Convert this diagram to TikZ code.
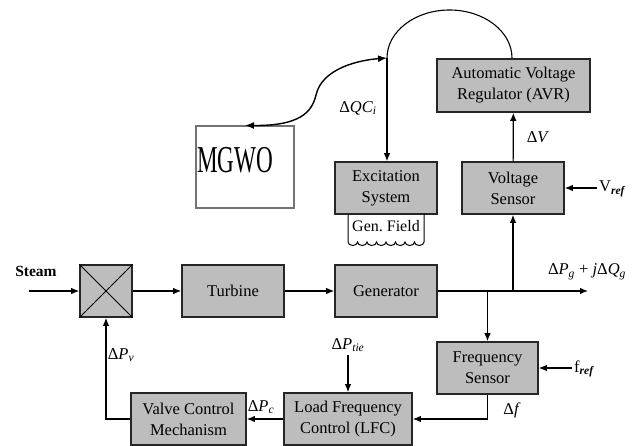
\documentclass[tikz,border=0pt]{standalone}
\usepackage{fontspec}
\setmainfont{Liberation Serif}
\usetikzlibrary{arrows.meta}
\frenchspacing
\begin{document}
\begin{tikzpicture}[x=1pt,y=-1pt,
  blk/.style={draw=black!85, line width=1.6pt, fill=gray!52, minimum width=102pt,
    minimum height=52pt, align=center, inner sep=0pt,
    font=\fontsize{16.5}{21}\selectfont},
  conn/.style={line width=1.2pt, -{Latex[length=8pt,width=6.5pt]}},
  lbl/.style={font=\fontsize{16.5}{20}\selectfont, inner sep=0pt},
  wire/.style={line width=1.2pt}]
\useasboundingbox (0,0) rectangle (637,445);
% blocks
\node[blk, minimum width=52pt] (sum) at (106,291) {};
\draw[line width=1pt] (sum.north west) -- (sum.south east) (sum.north east) -- (sum.south west);
\node[blk] (turb) at (233,291) {Turbine};
\node[blk] (gen) at (386,291) {Generator};
\node[blk] (exc) at (386,188) {Excitation\\System};
\node[blk] (vs) at (513,188) {Voltage\\Sensor};
\node[blk, minimum width=153pt, minimum height=53pt] (avr) at (513.5,85.5) {Automatic Voltage\\Regulator (AVR)};
\node[blk, minimum width=101pt] (fs) at (487.5,368) {Frequency\\Sensor};
\node[blk, minimum width=128pt] (lfc) at (348,419) {Load Frequency\\Control (LFC)};
\node[blk, minimum width=115pt] (vcm) at (188.5,419) {Valve Control\\Mechanism};
% MGWO
\node[draw=black!55, line width=1.2pt, minimum width=98pt, minimum height=82pt, inner sep=0pt] (mg) at (245,167) {};
\node[anchor=west, inner sep=0pt, font=\fontsize{38}{40}\selectfont] (mgt) at (197,160) {\scalebox{0.61}[1]{MGWO}};
% Gen. field
\draw[line width=1pt] (348,214) -- (348,242)
  \foreach \i in {1,...,8} { arc[start angle=180, end angle=0, x radius=4.75, y radius=3.5] }
  -- (424,214);
\node[lbl, font=\fontsize{16}{20}\selectfont] (gf) at (386,226) {Gen. Field};
% steam input
\coordinate (steamin) at (29,291);
\draw[conn] (steamin) -- (sum);
\node[lbl, font=\bfseries\fontsize{15.5}{18}\selectfont] (steam) at (36,271) {Steam};
\draw[conn] (sum) -- (turb);
\draw[conn] (turb) -- (gen);
\coordinate (out) at (588,291);
\draw[conn] (gen) -- (out);
\node[lbl] (outl) at (587,272) {Δ\textit{P}\textsubscript{\textit{g}} + \textit{j}Δ\textit{Q}\textsubscript{\textit{g}}};
% voltage loop
\coordinate (j1) at (513,291);
\draw[conn] (j1) -- (vs);
\coordinate (vr) at (597,188);
\draw[conn] (vr) -- (vs);
\node[lbl, anchor=west] (vrl) at (599,189) {V\textsubscript{\textbf{\textit{ref}}}};
\draw[conn] (vs) -- (avr);
\node[lbl] (dv) at (538,137) {Δ\textit{V}};
\coordinate (top) at (387,58);
\draw[wire, line width=1.1pt] (top) arc[start angle=180, end angle=360, x radius=62.5, y radius=48];
\draw[conn] (top) -- (top |- exc.north);
\node[lbl] (dqc) at (358,108) {Δ\textit{QC}\textsubscript{\textit{i}}};
\draw[line width=1.4pt, {Latex[length=9pt,width=7pt]}-{Latex[length=9pt,width=7pt]}]
  (mg.north) .. controls (300,126) and (312,112) .. (316,95)
  .. controls (322,68) and (360,60) .. (top);
% frequency loop
\coordinate (j2) at (487.5,291);
\draw[conn] (j2) -- (fs);
\coordinate (fr) at (572,368);
\draw[conn] (fr) -- (fs);
\node[lbl, anchor=west] (frl) at (574,369) {f\textsubscript{\textbf{\textit{ref}}}};
\draw[conn] (fs.south) |- (lfc.east);
\node[lbl] (df) at (512,410) {Δ\textit{f}};
\coordinate (ptie) at (348,355);
\draw[conn] (ptie) -- (lfc);
\node[lbl] (ptiel) at (348,345) {Δ\textit{P}\textsubscript{\textit{tie}}};
\draw[conn] (lfc) -- (vcm);
\node[lbl] (dpc) at (261,407) {Δ\textit{P}\textsubscript{\textit{c}}};
\draw[conn] (vcm.west) -| (sum.south);
\node[lbl] (dpv) at (121,355) {Δ\textit{P}\textsubscript{\textit{v}}};
\end{tikzpicture}
\end{document}
